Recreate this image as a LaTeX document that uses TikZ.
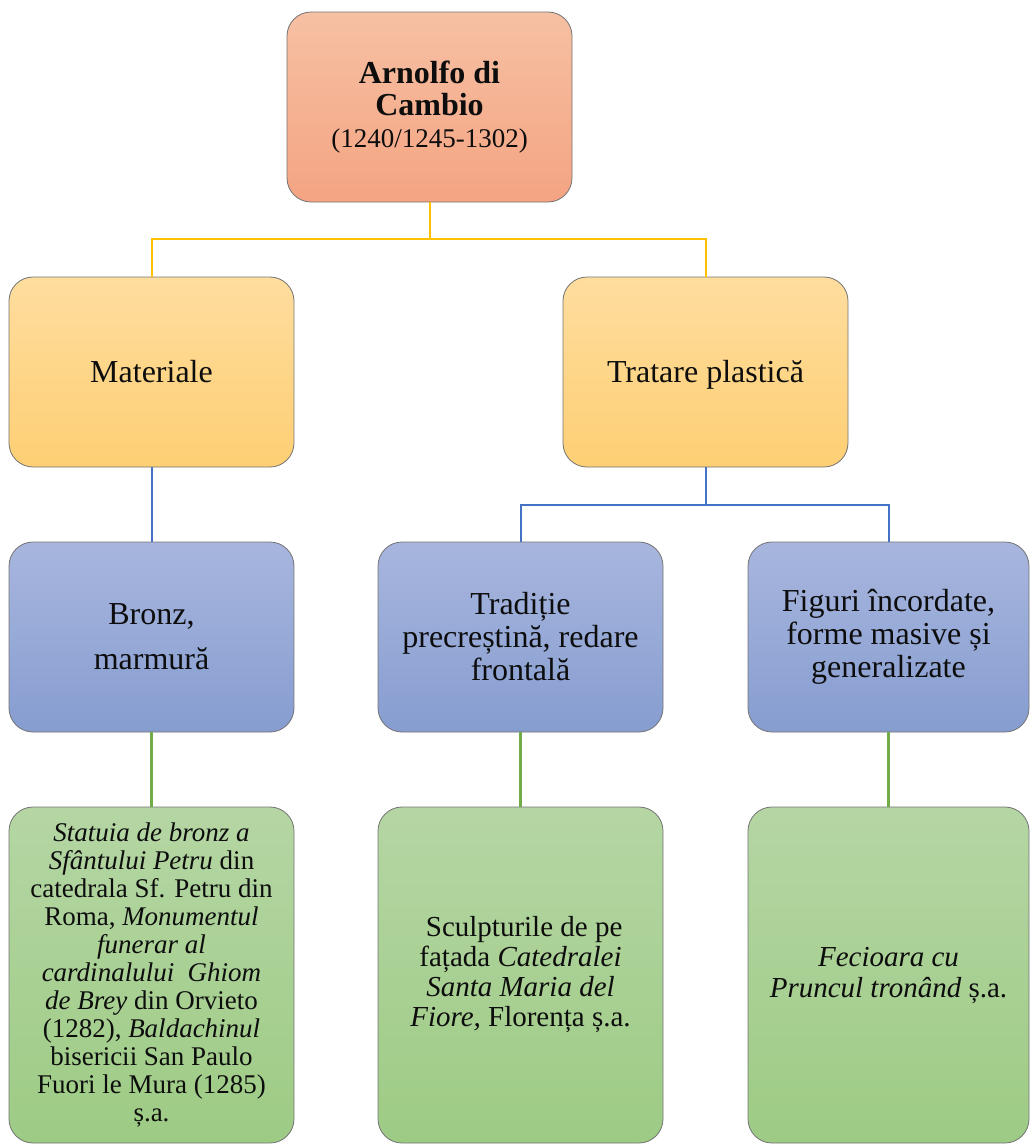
\documentclass[tikz,border=0pt]{standalone}
\usepackage{fontspec}
\setmainfont{Liberation Serif}
\definecolor{salmontop}{RGB}{246,192,163}
\definecolor{salmonbot}{RGB}{244,164,130}
\definecolor{yellowtop}{RGB}{254,221,158}
\definecolor{yellowbot}{RGB}{254,207,116}
\definecolor{bluetop}{RGB}{168,182,222}
\definecolor{bluebot}{RGB}{134,157,208}
\definecolor{greentop}{RGB}{181,214,164}
\definecolor{greenbot}{RGB}{157,203,132}
\definecolor{yline}{RGB}{255,192,0}
\definecolor{bline}{RGB}{68,114,196}
\definecolor{gline}{RGB}{112,173,71}
\tikzset{
  card/.style = {draw = black!55, line width = 0.8pt, rounded corners = 24pt, inner sep = 0pt,
    align = center, minimum width = 285pt, minimum height = 190pt, text = black!95},
  rootcard/.style = {card, top color = salmontop, bottom color = salmonbot},
  ycard/.style = {card, top color = yellowtop, bottom color = yellowbot, font = \fontsize{32}{36}\selectfont,
    text height = 26pt, text depth = 6pt},
  bcard/.style = {card, top color = bluetop, bottom color = bluebot},
  gcard/.style = {card, minimum height = 336pt, top color = greentop, bottom color = greenbot},
  ylink/.style = {draw = yline, line width = 2pt},
  blink/.style = {draw = bline, line width = 2pt},
  glink/.style = {draw = gline, line width = 2.6pt}
}
\begin{document}
\begin{tikzpicture}[x = 1pt, y = -1pt]
\useasboundingbox (0,0) rectangle (1030,1146);
% root
\node [rootcard, font = \fontsize{32}{32}\selectfont] (arnolfo) at (429.5,107) {\textbf{Arnolfo di}\\
  \textbf{Cambio}\\ {\fontsize{27}{32}\selectfont (1240/1245-1302)}};
% first level
\node [ycard] (materiale) at (151.5,372) {Materiale};
\node [ycard] (tratare) at (705.5,372) {Tratare plastică};
% second level
\node [bcard, font = \fontsize{32}{45}\selectfont] (bronz) at (151.5,637) {Bronz,\\ marmură};
\node [bcard, font = \fontsize{32}{33}\selectfont] (traditie) at (520.5,637) {Tradiție\\ precreștină, redare\\ frontală};
\node [bcard, minimum width = 281pt, font = \fontsize{32}{33}\selectfont] (figuri) at (888.5,637) {Figuri încordate,\\ forme masive și\\ generalizate};
% examples
\node [gcard, font = \fontsize{27}{28}\selectfont] (statuia) at (151.5,975) {\textit{Statuia de bronz a}\\
  \textit{Sfântului Petru} din\\ catedrala Sf. Petru din\\ Roma, \textit{Monumentul}\\ \textit{funerar al}\\
  \textit{cardinalului\ \ Ghiom}\\ \textit{de Brey} din Orvieto\\ (1282), \textit{Baldachinul}\\
  bisericii San Paulo\\ Fuori le Mura (1285)\\ ș.a.};
\node [gcard, font = \fontsize{29}{30}\selectfont] (sculpturi) at (520.5,975) {\ Sculpturile de pe\\
  fațada \textit{Catedralei}\\ \textit{Santa Maria del}\\ \textit{Fiore,} Florența ș.a.};
\node [gcard, minimum width = 281pt, font = \fontsize{29}{31}\selectfont] (fecioara) at (888.5,975) {\textit{Fecioara cu}\\
  \textit{Pruncul tronând} ș.a.};
% links
\draw [ylink] (arnolfo.south) -- ++(0,37) -| (materiale.north);
\draw [ylink] (arnolfo.south) -- ++(0,37) -| (tratare.north);
\draw [blink] (materiale.south) -- (bronz.north);
\draw [blink] (tratare.south) -- ++(0,38) -| (traditie.north);
\draw [blink] (tratare.south) -- ++(0,38) -| (figuri.north);
\foreach \a/\b in {bronz/statuia, traditie/sculpturi, figuri/fecioara}
  \draw [glink] (\a.south) -- (\b.north);
\end{tikzpicture}
\end{document}
